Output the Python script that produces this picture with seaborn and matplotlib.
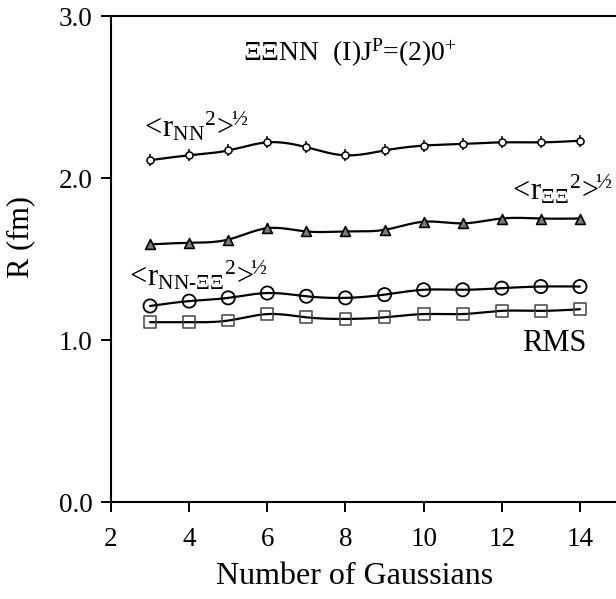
import numpy as np
import pandas as pd
import matplotlib
matplotlib.use("Agg")
import matplotlib.pyplot as plt
import seaborn as sns

# ---- data ----
n_gauss = [3, 4, 5, 6, 7, 8, 9, 10, 11, 12, 13, 14]
r_nn = [2.11, 2.14, 2.17, 2.22, 2.19, 2.14, 2.17, 2.20, 2.21, 2.22, 2.22, 2.23]
r_xx = [1.59, 1.60, 1.62, 1.69, 1.67, 1.67, 1.68, 1.73, 1.72, 1.75, 1.75, 1.75]
r_nn_xx = [1.21, 1.24, 1.26, 1.29, 1.27, 1.26, 1.28, 1.31, 1.31, 1.32, 1.33, 1.33]
rms = [1.11, 1.11, 1.12, 1.16, 1.14, 1.13, 1.14, 1.16, 1.16, 1.18, 1.18, 1.19]
x_ticks = [2, 4, 6, 8, 10, 12, 14]
y_ticks = [0.0, 1.0, 2.0, 3.0]

sns.set_theme(style="ticks")
plt.rcParams['font.family'] = ['Liberation Serif', 'DejaVu Serif']
plt.rcParams['mathtext.fontset'] = 'custom'
plt.rcParams['mathtext.rm'] = 'Liberation Serif'
plt.rcParams['mathtext.it'] = 'Liberation Serif:italic'
plt.rcParams['mathtext.bf'] = 'Liberation Serif:bold'
plt.rcParams['text.color'] = 'black'
plt.rcParams['axes.labelcolor'] = 'black'
plt.rcParams['xtick.color'] = 'black'
plt.rcParams['ytick.color'] = 'black'


def natural_spline(x, y, num=20):
    x = np.asarray(x, float); y = np.asarray(y, float)
    n = len(x); h = np.diff(x)
    A = np.zeros((n, n)); b = np.zeros(n)
    A[0, 0] = A[-1, -1] = 1
    for i in range(1, n - 1):
        A[i, i - 1] = h[i - 1]; A[i, i] = 2 * (h[i - 1] + h[i]); A[i, i + 1] = h[i]
        b[i] = 3 * ((y[i + 1] - y[i]) / h[i] - (y[i] - y[i - 1]) / h[i - 1])
    c = np.linalg.solve(A, b)
    xs, ys = [], []
    for i in range(n - 1):
        bi = (y[i + 1] - y[i]) / h[i] - h[i] * (2 * c[i] + c[i + 1]) / 3
        di = (c[i + 1] - c[i]) / (3 * h[i])
        t = np.linspace(0, h[i], num, endpoint=(i == n - 2))
        xs.append(x[i] + t)
        ys.append(y[i] + bi * t + c[i] * t ** 2 + di * t ** 3)
    return np.concatenate(xs), np.concatenate(ys)


series = {'rNN': r_nn, 'rXX': r_xx, 'rNNXX': r_nn_xx, 'RMS': rms}
frames = []
for name, vals in series.items():
    xs, ys = natural_spline(n_gauss, vals)
    frames.append(pd.DataFrame({'x': xs, 'y': ys, 's': name}))
curves = pd.concat(frames, ignore_index=True)
points = pd.concat([pd.DataFrame({'x': n_gauss, 'y': v, 's': k}) for k, v in series.items()],
                   ignore_index=True)

fig = plt.figure(figsize=(6.16, 5.99), dpi=100)
fig.patch.set_facecolor('white')
ax = fig.add_axes([111 / 616, 97 / 599, 508 / 616, 486 / 599])

sns.lineplot(data=curves, x='x', y='y', hue='s', palette=['black'] * 4, legend=False,
             linewidth=1.6, ax=ax, sort=False, estimator=None, units='s')

# markers
sub = points[points.s == 'rNN']
sns.scatterplot(data=sub, x='x', y='y', marker='|', s=70, color='black', linewidth=1.1, ax=ax, zorder=4)
sns.scatterplot(data=sub, x='x', y='y', marker='o', s=26, facecolor='white', edgecolor='black',
                linewidth=1.1, ax=ax, zorder=5)
sub = points[points.s == 'rXX']
sns.scatterplot(data=sub, x='x', y='y', marker='^', s=50, facecolor='#7a7a7a', edgecolor='black',
                linewidth=1.2, ax=ax, zorder=5)
sub = points[points.s == 'rNNXX']
sns.scatterplot(data=sub, x='x', y='y', marker='o', s=90, facecolor='none', edgecolor='black',
                linewidth=1.3, ax=ax, zorder=5)
sub = points[points.s == 'RMS']
sns.scatterplot(data=sub, x='x', y='y', marker='s', s=72, facecolor='none', edgecolor='#444444',
                linewidth=1.1, ax=ax, zorder=5)

ax.set_xlim(2, 15)
ax.set_ylim(0, 3)
ax.set_xticks(x_ticks)
ax.set_xticklabels([str(t) for t in x_ticks])
ax.set_yticks(y_ticks)
ax.set_yticklabels([f"{t:.1f}" for t in y_ticks])
ax.tick_params(direction='out', length=7.2, width=1.4, labelsize=19.5, colors='black')
ax.tick_params(axis='x', pad=11)
ax.tick_params(axis='y', pad=6)
for side in ['left', 'bottom', 'top']:
    ax.spines[side].set_linewidth(1.5)
    ax.spines[side].set_color('black')
ax.spines['right'].set_visible(False)
ax.set_xlabel('Number of Gaussians', fontsize=23)
ax.xaxis.set_label_coords(0.48, -0.123)
ax.set_ylabel('R (fm)', fontsize=22)
ax.yaxis.set_label_coords(-0.15, 0.545)

ax.text(0.26, 0.925, r'ΞΞNN  (I)J$^{\mathrm{P}}$=(2)0$^{+}$', transform=ax.transAxes,
        fontsize=20, ha='left', va='center')
ax.text(2.74, 2.32, r'$\mathrm{<\!r_{NN}{}^{2}\!>\!\!{}^{½}}$', fontsize=22, ha='left', va='center')
ax.text(12.15, 1.93, r'$\mathrm{<\!r_{ΞΞ}{}^{2}\!>\!\!{}^{½}}$', fontsize=22, ha='left', va='center')
ax.text(2.35, 1.40, r'$\mathrm{<\!r_{NN\text{-}ΞΞ}{}^{2}\!>\!\!{}^{½}}$', fontsize=22, ha='left', va='center')
ax.text(12.52, 0.98, 'RMS', fontsize=22, ha='left', va='center')

fig.savefig('out.png', dpi=100, facecolor='white')
